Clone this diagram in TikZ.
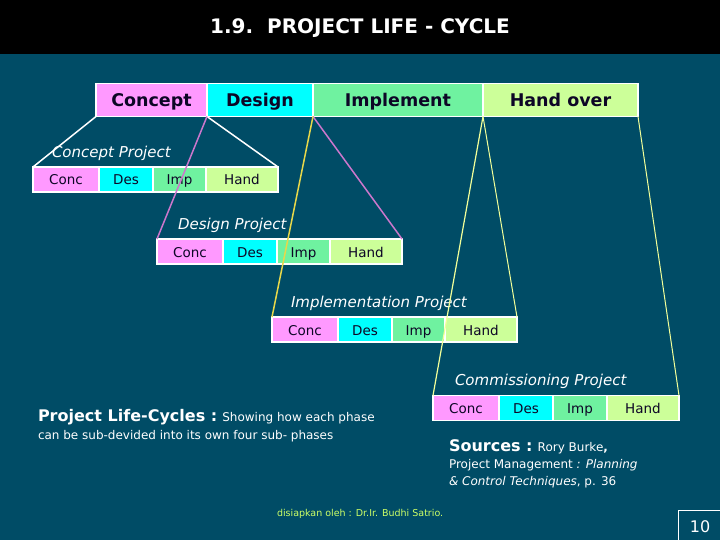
\documentclass[tikz,border=0pt]{standalone}
\usepackage{fontspec}
\setmainfont{DejaVu Sans}
\usepackage{tikz,xcolor}
\definecolor{bgteal}{HTML}{004C66}
\definecolor{pinkph}{HTML}{FF99FF}
\definecolor{cyanph}{HTML}{00FFFF}
\definecolor{greenph}{HTML}{6FF2A0}
\definecolor{limeph}{HTML}{CCFF99}
\definecolor{inkdark}{HTML}{0D0626}
\definecolor{lilac}{HTML}{CC77CC}
\definecolor{goldline}{HTML}{E8D84A}
\definecolor{paleline}{HTML}{F2FF99}
\definecolor{footgreen}{HTML}{CCFF66}

\begin{document}
\begin{tikzpicture}[x=1pt,y=-1pt]
    \useasboundingbox (0,0) rectangle (720,540);
    \fill[bgteal] (0,0) rectangle (720,540);
    \fill[black] (0,0) rectangle (720,54);

    \tikzstyle{every node}=[inner sep=0pt,outer sep=0pt]
    \tikzstyle{phase}=[draw=white,line width=1.5pt,minimum height=33pt,text height=16pt,text depth=3.2pt,text=inkdark,font=\bfseries\fontsize{17.5}{20}\selectfont]
    \tikzstyle{sub}=[draw=white,line width=1.5pt,minimum height=25pt,text height=13pt,text depth=2pt,text=inkdark,font=\fontsize{13.5}{16}\selectfont]
    \tikzstyle{lbl}=[text=white,anchor=west,font=\itshape\fontsize{15}{18}\selectfont]

    \node[text=white,font=\bfseries\fontsize{20}{22}\selectfont](title) at (360,28){1.9.\ \ PROJECT LIFE - CYCLE};

    % main phases
    \node[phase,fill=pinkph,minimum width=111pt](ph1) at (151.5,100){Concept};
    \node[phase,fill=cyanph,minimum width=106pt](ph2) at (260,100){Design};
    \node[phase,fill=greenph,minimum width=170pt](ph3) at (398,100){Implement};
    \node[phase,fill=limeph,minimum width=155pt](ph4) at (560.5,100){Hand over};

    % concept project
    \node[lbl](cpl) at (52,153){Concept Project};
    \node[sub,fill=pinkph,minimum width=66pt](cp1) at (66,179.5){Conc};
    \node[sub,fill=cyanph,minimum width=54pt](cp2) at (126,179.5){Des};
    \node[sub,fill=greenph,minimum width=53pt](cp3) at (179.5,179.5){Imp};
    \node[sub,fill=limeph,minimum width=72pt](cp4) at (242,179.5){Hand};

    % design project
    \node[lbl](dpl) at (178,225){Design Project};
    \node[sub,fill=pinkph,minimum width=66pt](dp1) at (190,251.5){Conc};
    \node[sub,fill=cyanph,minimum width=54pt](dp2) at (250,251.5){Des};
    \node[sub,fill=greenph,minimum width=53pt](dp3) at (303.5,251.5){Imp};
    \node[sub,fill=limeph,minimum width=72pt](dp4) at (366,251.5){Hand};

    % implementation project
    \node[lbl](ipl) at (291,303){Implementation Project};
    \node[sub,fill=pinkph,minimum width=66pt](ip1) at (305,329.5){Conc};
    \node[sub,fill=cyanph,minimum width=54pt](ip2) at (365,329.5){Des};
    \node[sub,fill=greenph,minimum width=53pt](ip3) at (418.5,329.5){Imp};
    \node[sub,fill=limeph,minimum width=72pt](ip4) at (481,329.5){Hand};

    % commissioning project
    \node[lbl](kpl) at (455,381){Commissioning Project};
    \node[sub,fill=pinkph,minimum width=66pt](kp1) at (466,408){Conc};
    \node[sub,fill=cyanph,minimum width=54pt](kp2) at (526,408){Des};
    \node[sub,fill=greenph,minimum width=54pt](kp3) at (580,408){Imp};
    \node[sub,fill=limeph,minimum width=72pt](kp4) at (643,408){Hand};

    % fan out lines
    \draw[white,line width=1.5pt](ph1.south west)--(cp1.north west);
    \draw[white,line width=1.5pt](ph1.south east)--(cp4.north east);
    \draw[lilac,line width=1.5pt](ph2.south west)--(dp1.north west);
    \draw[lilac,line width=1.5pt](ph2.south east)--(dp4.north east);
    \draw[goldline,line width=1.5pt](ph3.south west)--(ip1.north west);
    \draw[paleline,line width=1pt](ph3.south east)--(ip4.north east);
    \draw[paleline,line width=1.2pt](ph4.south west)--(kp1.north west);
    \draw[paleline,line width=1pt](ph4.south east)--(kp4.north east);

    \tikzstyle{every node}=[inner sep=0pt,outer sep=0pt,text=white,anchor=base west,font=\fontsize{12}{14}\selectfont]

    \node(note1) at (38,421){{\bfseries\fontsize{16}{18}\selectfont Project Life-Cycles :} Showing how each phase};
    \node(note2) at (38,439){can be sub-devided into its own four sub- phases};

    \node(src1) at (449,451){{\bfseries\fontsize{16}{18}\selectfont Sources :} Rory Burke\textbf{,}};
    \node(src2) at (449,468){Project Management \textit{: Planning}};
    \node(src3) at (449,485){\textit{\& Control Techniques}, p. 36};

    \node[text=footgreen,font=\fontsize{9.5}{11}\selectfont](foot) at (277,516){disiapkan oleh : Dr.Ir. Budhi Satrio.};

    \node[draw=white,line width=1pt,anchor=center,minimum width=44pt,minimum height=34pt,font=\fontsize{16}{18}\selectfont](pg) at (700,527){10};

\end{tikzpicture}
\end{document}
